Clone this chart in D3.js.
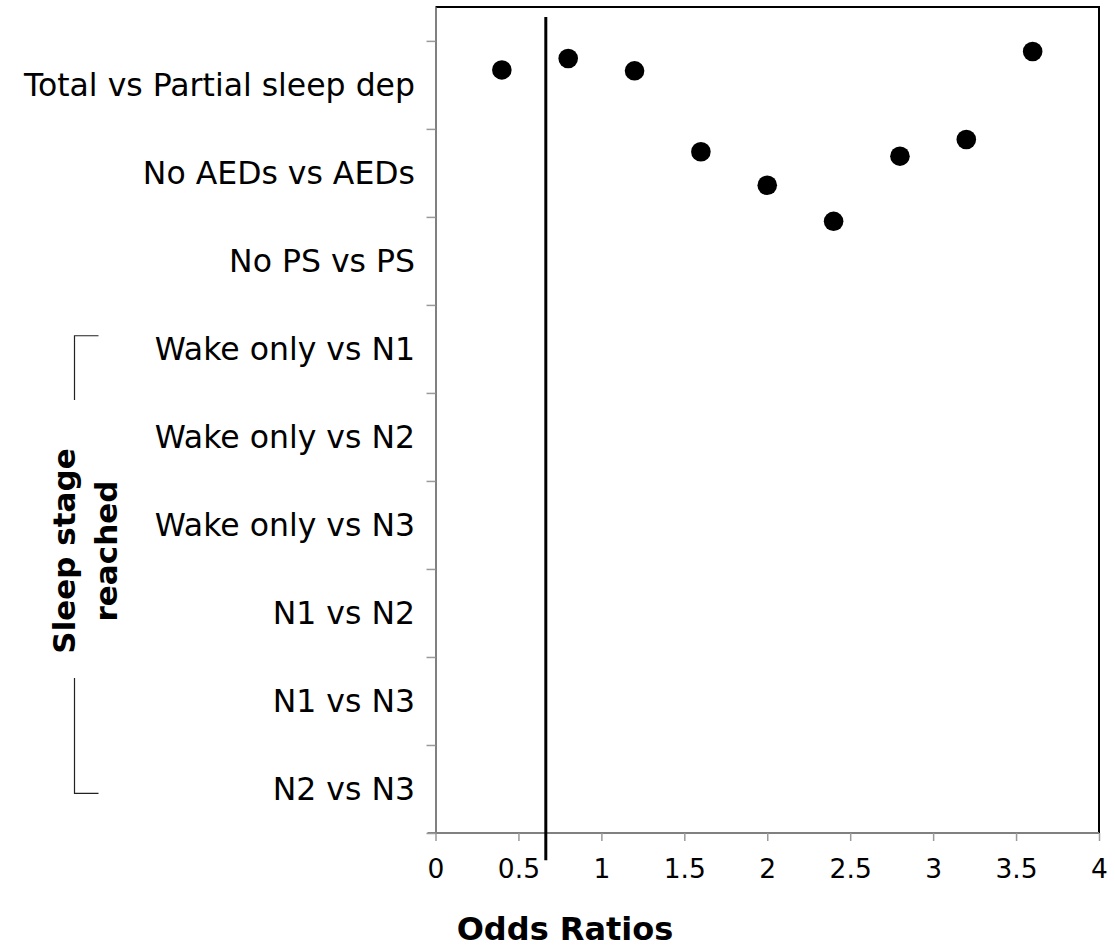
<!DOCTYPE html>
<html>
<head>
<meta charset="utf-8">
<script src="https://cdn.jsdelivr.net/npm/d3@7"></script>
<style>
  html, body { margin: 0; padding: 0; background: #fff; }
  svg { display: block; font-family: "DejaVu Sans", sans-serif; }
</style>
</head>
<body>
<svg id="chart" width="1115" height="947"></svg>
<script>
const categories = [
  "Total vs Partial sleep dep",
  "No AEDs vs AEDs",
  "No PS vs PS",
  "Wake only vs N1",
  "Wake only vs N2",
  "Wake only vs N3",
  "N1 vs N2",
  "N1 vs N3",
  "N2 vs N3"
];
const pointX = [0.4, 0.8, 1.2, 1.6, 2.0, 2.4, 2.8, 3.2, 3.6];
const pointY = [8.67, 8.80, 8.66, 7.74, 7.36, 6.95, 7.69, 7.88, 8.88];
const xTicks = [0, 0.5, 1, 1.5, 2, 2.5, 3, 3.5, 4];
const yTicks = [0, 1, 2, 3, 4, 5, 6, 7, 8, 9];
const refLine = 0.665;
const refLineSpan = [-0.31, 9.27];
const bracketTop = [5.65, 4.92];
const bracketBottom = [1.76, 0.45];
const xTitle = "Odds Ratios";
const yTitle = ["Sleep stage", "reached"];

const svg = d3.select("#chart");
const mLeft = 435.5, mRight = 1099, mTop = 7, mBottom = 833;

const x = d3.scaleLinear().domain([0, 4]).range([mLeft, mRight]);
const y = d3.scaleLinear().domain([0, 9.385]).range([mBottom, mTop]);

// top and right border
svg.append("path")
  .attr("d", `M${mLeft},${mTop}H${mRight}V${mBottom}`)
  .attr("fill", "none").attr("stroke", "#000").attr("stroke-width", 2);

// x axis
const xAxis = svg.append("g").attr("transform", `translate(0,${mBottom})`)
  .call(d3.axisBottom(x).tickValues(xTicks).tickFormat(d3.format("~g"))
    .tickSize(8).tickPadding(18).tickSizeOuter(0));
xAxis.select(".domain").attr("stroke", "#808080").attr("stroke-width", 2)
  .attr("d", `M${mLeft - 8},0H${mRight}`);
xAxis.selectAll(".tick line").attr("stroke", "#9a9a9a").attr("stroke-width", 1.5);
xAxis.selectAll(".tick text").attr("font-size", 26.5).attr("fill", "#000")
  .attr("font-family", "DejaVu Sans").attr("dy", "0.71em");

// y axis
const yAxis = svg.append("g").attr("transform", `translate(${mLeft},0)`)
  .call(d3.axisLeft(y).tickValues(yTicks).tickSize(9).tickFormat("").tickSizeOuter(0));
yAxis.select(".domain").attr("stroke", "#808080").attr("stroke-width", 2);
yAxis.selectAll(".tick line").attr("stroke", "#9a9a9a").attr("stroke-width", 1.5);

// category labels
svg.append("g").selectAll("text").data(categories).join("text")
  .attr("x", 415)
  .attr("y", (d, i) => y(categories.length - 1 - i + 0.5))
  .attr("dy", "0.36em")
  .attr("text-anchor", "end")
  .attr("font-size", 31.5)
  .attr("fill", "#000")
  .text(d => d);

// reference line
svg.append("line")
  .attr("x1", x(refLine)).attr("x2", x(refLine))
  .attr("y1", y(refLineSpan[1])).attr("y2", y(refLineSpan[0]))
  .attr("stroke", "#000").attr("stroke-width", 3);

// points
svg.append("g").selectAll("circle").data(pointX).join("circle")
  .attr("cx", d => x(d))
  .attr("cy", (d, i) => y(pointY[i]))
  .attr("r", 9.8)
  .attr("fill", "#000");

// brackets
const bx0 = 74.5, bx1 = 98.5;
svg.append("path")
  .attr("d", `M${bx1},${y(bracketTop[0])}H${bx0}V${y(bracketTop[1])}`)
  .attr("fill", "none").attr("stroke", "#222").attr("stroke-width", 1.2);
svg.append("path")
  .attr("d", `M${bx0},${y(bracketBottom[0])}V${y(bracketBottom[1])}H${bx1}`)
  .attr("fill", "none").attr("stroke", "#222").attr("stroke-width", 1.2);

// y title
const yt = svg.append("text")
  .attr("transform", "translate(0,551) rotate(-90)")
  .attr("text-anchor", "middle")
  .attr("font-size", 31).attr("font-weight", "bold").attr("fill", "#000");
yt.selectAll("tspan").data(yTitle).join("tspan")
  .attr("x", 0)
  .attr("y", (d, i) => 75 + i * 42)
  .text(d => d);

// x title
svg.append("text")
  .attr("x", 565).attr("y", 940)
  .attr("text-anchor", "middle")
  .attr("font-size", 32).attr("font-weight", "bold").attr("fill", "#000")
  .text(xTitle);
</script>
</body>
</html>
